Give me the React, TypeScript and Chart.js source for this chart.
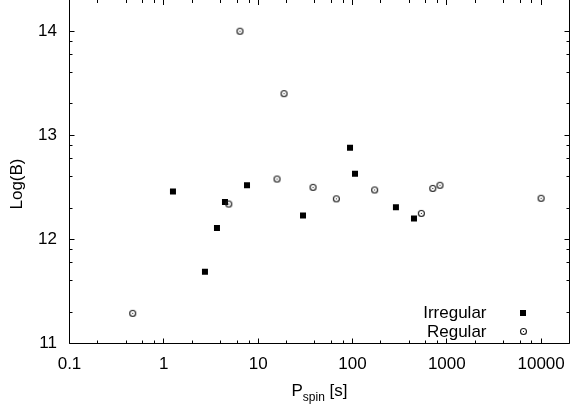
import React, { useEffect, useRef } from "react";
import { Chart, registerables } from "chart.js";

Chart.register(...registerables);

// ---- data ----
const seriesNames = ["Irregular", "Regular"];

const irregularP = [1.25, 2.73, 3.66, 4.45, 7.62, 29.9, 94.2, 106.4, 289, 449];
const irregularLogB = [12.46, 11.69, 12.11, 12.36, 12.52, 12.23, 12.88, 12.63, 12.31, 12.2];

const regularP = [0.468, 4.88, 6.42, 15.85, 18.8, 38.2, 67.5, 172, 537, 710, 847, 10000];
const regularLogB = [11.29, 12.34, 14.0, 12.58, 13.4, 12.5, 12.39, 12.475, 12.25, 12.49, 12.52, 12.395];

const xTickValues = [0.1, 1, 10, 100, 1000, 10000];
const xTickLabels = ["0.1", "1", "10", "100", "1000", "10000"];
const yTickValues = [11, 12, 13, 14];
const yTickLabels = ["11", "12", "13", "14"];
const minorFactors = [2, 4, 6, 8];

const xMin = 0.1;
const xMax = 20000;
const yMin = 11;
const yMax = 14.3;

const xTitleMain = "P";
const xTitleSub = "spin";
const xTitleEnd = " [s]";
const yTitle = "Log(B)";

const FONT = '"Liberation Sans", Arial, Helvetica, sans-serif';
const FS = 17;

function makeRegularMarker(): HTMLCanvasElement {
  const c = document.createElement("canvas");
  c.width = 9;
  c.height = 9;
  const g = c.getContext("2d")!;
  g.strokeStyle = "#1a1a1a";
  g.lineWidth = 1.1;
  g.beginPath();
  g.arc(4.5, 4.5, 3, 0, Math.PI * 2);
  g.stroke();
  g.fillStyle = "#222";
  g.fillRect(4, 4, 1, 1);
  return c;
}

function makeIrregularMarker(): HTMLCanvasElement {
  const c = document.createElement("canvas");
  c.width = 6;
  c.height = 6;
  const g = c.getContext("2d")!;
  g.fillStyle = "#000";
  g.fillRect(0, 0, 6, 6);
  return c;
}

function makeFramePlugin(irrMarker: HTMLCanvasElement, regMarker: HTMLCanvasElement) {
  return {
    id: "gnuplotFrame",
    afterDraw(chart: any) {
      const ctx = chart.ctx as CanvasRenderingContext2D;
      const xs = chart.scales.x;
      const ys = chart.scales.y;
      const { left, right, top, bottom } = chart.chartArea;
      ctx.save();
      ctx.strokeStyle = "#000";
      ctx.lineWidth = 1;
      ctx.beginPath();
      ctx.moveTo(left, top - 1);
      ctx.lineTo(left, bottom);
      ctx.lineTo(right, bottom);
      ctx.lineTo(right, top - 1);
      ctx.stroke();

      const crisp = (v: number) => Math.floor(v) + 0.5;
      const xTicks: { v: number; major: boolean }[] = [];
      for (const t of xTickValues) {
        xTicks.push({ v: t, major: true });
        for (const f of minorFactors) {
          const mv = t * f;
          if (mv < xMax) xTicks.push({ v: mv, major: false });
        }
      }
      ctx.beginPath();
      for (const t of xTicks) {
        const px = crisp(xs.getPixelForValue(t.v));
        const len = t.major ? 5 : 3;
        ctx.moveTo(px, bottom);
        ctx.lineTo(px, bottom - len);
        ctx.moveTo(px, top);
        ctx.lineTo(px, top + len);
      }
      const yTicks: { v: number; major: boolean }[] = [];
      for (const t of yTickValues) {
        yTicks.push({ v: t, major: true });
        for (const f of minorFactors) {
          const mv = t + Math.log10(f);
          if (mv < yMax) yTicks.push({ v: mv, major: false });
        }
      }
      for (const t of yTicks) {
        const py = crisp(ys.getPixelForValue(t.v));
        const len = t.major ? 5 : 3;
        ctx.moveTo(left, py);
        ctx.lineTo(left + len, py);
        ctx.moveTo(right, py);
        ctx.lineTo(right - len, py);
      }
      ctx.stroke();

      ctx.fillStyle = "#000";
      ctx.font = `${FS}px ${FONT}`;
      const wMain = ctx.measureText(xTitleMain).width;
      const wEnd = ctx.measureText(xTitleEnd).width;
      ctx.font = `12px ${FONT}`;
      const wSub = ctx.measureText(xTitleSub).width;
      const total = wMain + wSub + wEnd;
      let x0 = (left + right) / 2 - total / 2;
      const base = 396;
      ctx.textBaseline = "alphabetic";
      ctx.textAlign = "left";
      ctx.font = `${FS}px ${FONT}`;
      ctx.fillText(xTitleMain, x0, base);
      x0 += wMain;
      ctx.font = `12px ${FONT}`;
      ctx.fillText(xTitleSub, x0, base + 5);
      x0 += wSub;
      ctx.font = `${FS}px ${FONT}`;
      ctx.fillText(xTitleEnd, x0, base);

      ctx.save();
      ctx.translate(17, 184);
      ctx.rotate(-Math.PI / 2);
      ctx.textAlign = "center";
      ctx.textBaseline = "middle";
      ctx.font = `${FS}px ${FONT}`;
      ctx.fillText(yTitle, 0, 0);
      ctx.restore();

      ctx.font = `${FS}px ${FONT}`;
      ctx.textAlign = "right";
      ctx.textBaseline = "alphabetic";
      const keyTextX = 486.5;
      const keyMarkX = 523;
      const rows = [
        { label: seriesNames[0], y: 312.5, img: irrMarker },
        { label: seriesNames[1], y: 331, img: regMarker },
      ];
      for (const r of rows) {
        ctx.fillText(r.label, keyTextX, r.y + 5.5);
        const im = r.img;
        ctx.drawImage(im, Math.round(keyMarkX - im.width / 2), Math.round(r.y - im.height / 2));
      }
      ctx.restore();
    },
  };
}

export default function App() {
  const ref = useRef<HTMLCanvasElement | null>(null);

  useEffect(() => {
    document.body.style.margin = "0";
    const canvas = ref.current;
    if (!canvas) return;
    const regMarker = makeRegularMarker();
    const irrMarker = makeIrregularMarker();

    const chart: any = new Chart(canvas, {
      type: "scatter",
      data: {
        datasets: [
          {
            label: seriesNames[1],
            data: regularP.map((p, i) => ({ x: p, y: regularLogB[i] })),
            pointStyle: regMarker as any,
            pointRadius: 4,
            order: 0,
          },
          {
            label: seriesNames[0],
            data: irregularP.map((p, i) => ({ x: p, y: irregularLogB[i] })),
            pointStyle: "rect",
            pointRadius: 4.243,
            pointBorderWidth: 0,
            backgroundColor: "#000",
            borderColor: "#000",
            order: 1,
          },
        ],
      },
      options: {
        animation: false,
        responsive: false,
        devicePixelRatio: 1,
        layout: { autoPadding: false, padding: { left: 0, right: 6.5, top: 0, bottom: 0 } },
        plugins: { legend: { display: false }, tooltip: { enabled: false } },
        scales: {
          x: {
            type: "logarithmic",
            position: "bottom",
            min: xMin,
            max: xMax,
            bounds: "data",
            grid: { display: false, drawTicks: false },
            border: { display: false },
            afterBuildTicks: (s: any) => {
              s.ticks = xTickValues.map((v) => ({ value: v }));
            },
            afterFit: (s: any) => {
              s.height = 64.5;
              s.paddingLeft = 0;
              s.paddingRight = 0;
            },
            ticks: {
              autoSkip: false,
              maxRotation: 0,
              padding: 10.5,
              color: "#000",
              font: { family: FONT, size: FS },
              callback: (_v: any, i: number) => xTickLabels[i],
            },
          },
          y: {
            type: "linear",
            position: "left",
            min: yMin,
            max: yMax,
            bounds: "data",
            grid: { display: false, drawTicks: false },
            border: { display: false },
            afterBuildTicks: (s: any) => {
              s.ticks = yTickValues.map((v) => ({ value: v }));
            },
            afterFit: (s: any) => {
              s.width = 69.5;
              s.paddingTop = 0;
              s.paddingBottom = 0;
            },
            ticks: {
              autoSkip: false,
              padding: 12.5,
              color: "#000",
              font: { family: FONT, size: FS },
              callback: (_v: any, i: number) => yTickLabels[i],
            },
          },
        },
      },
      plugins: [makeFramePlugin(irrMarker, regMarker)],
    });

    return () => chart.destroy();
  }, []);

  return (
    <div style={{ width: 576, height: 408, background: "#fff" }}>
      <canvas ref={ref} width={576} height={408} style={{ display: "block", width: 576, height: 408 }} />
    </div>
  );
}
